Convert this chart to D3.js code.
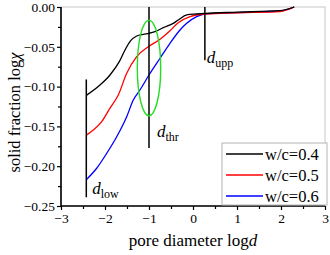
<!DOCTYPE html>
<html>
<head>
<meta charset="utf-8">
<script src="https://cdn.jsdelivr.net/npm/d3@7"></script>
<style>
  body { margin: 0; background: #fff; }
  text { font-family: "Liberation Serif", "Times New Roman", serif; fill: #000; }
</style>
</head>
<body>
<svg id="chart" width="330" height="255"></svg>
<script>
const width = 330, height = 255;

// pore diameter (log d) for each curve
const logD040 = [-2.425, -2.114, -1.886, -1.675, -1.545, -1.416, -1.28, -1.13, -1.0, -0.864, -0.675, -0.448, -0.334, -0.143, 0.084, 0.27, 1.0, 1.98, 2.3];
const chi040  = [-0.111, -0.098, -0.0854, -0.0687, -0.054, -0.0423, -0.0364, -0.0343, -0.033, -0.031, -0.026, -0.0205, -0.0163, -0.010, -0.0088, -0.008, -0.0065, -0.0046, 0.0];

const logD050 = [-2.425, -2.266, -2.075, -1.886, -1.698, -1.507, -1.28, -1.016, -0.75, -0.523, -0.334, -0.068, 0.27, 1.0, 1.98, 2.3];
const chi050  = [-0.161, -0.1545, -0.144, -0.127, -0.1106, -0.0833, -0.0624, -0.0499, -0.0406, -0.0298, -0.0197, -0.0122, -0.0088, -0.0072, -0.0057, 0.0];

const logD060 = [-2.425, -2.189, -1.961, -1.734, -1.507, -1.357, -1.205, -1.0, -0.75, -0.523, -0.295, -0.143, 0.084, 0.27, 1.0, 1.98, 2.3];
const chi060  = [-0.217, -0.2026, -0.1838, -0.163, -0.1378, -0.1168, -0.1043, -0.0854, -0.0644, -0.0456, -0.0289, -0.0205, -0.0122, -0.0088, -0.0070, -0.005, 0.0];

const seriesNames = ["w/c=0.4", "w/c=0.5", "w/c=0.6"];
const seriesColors = ["#000000", "#ff0000", "#0000ff"];

const xTicks = [-3, -2, -1, 0, 1, 2, 3];
const yTicks = [0, -0.05, -0.10, -0.15, -0.20, -0.25];

// characteristic pore diameters: vertical markers and their labels
const markers = [
  { name: "low", x: -2.425, y0: -0.091, y1: -0.239, lx: -2.29, ly: -0.235 },
  { name: "thr", x: -1.0,   y0: 0.0,    y1: -0.177, lx: -0.82, ly: -0.163 },
  { name: "upp", x: 0.27,   y0: 0.0,    y1: -0.067, lx: 0.31,  ly: -0.070 }
];

const margin = { left: 61, right: 5, top: 7, bottom: 49 };

const svg = d3.select("#chart");

const x = d3.scaleLinear().domain([-3, 3]).range([margin.left, width - margin.right]);
const y = d3.scaleLinear().domain([-0.25, 0]).range([height - margin.bottom, margin.top]);

// light frame on top / right
svg.append("rect")
  .attr("x", x(-3)).attr("y", y(0))
  .attr("width", x(3) - x(-3)).attr("height", y(-0.25) - y(0))
  .attr("fill", "none").attr("stroke", "#c8c8c8").attr("stroke-width", 1);

// curves
const line = d3.line().x(d => x(d[0])).y(d => y(d[1])).curve(d3.curveMonotoneX);
const series = [
  d3.zip(logD040, chi040),
  d3.zip(logD050, chi050),
  d3.zip(logD060, chi060)
];
// blue first so black sits on top
[2, 1, 0].forEach(i => {
  svg.append("path")
    .datum(series[i])
    .attr("d", line)
    .attr("fill", "none")
    .attr("stroke", seriesColors[i])
    .attr("stroke-width", 1.3);
});

// marker lines + labels
markers.forEach(m => {
  svg.append("line")
    .attr("x1", x(m.x)).attr("x2", x(m.x))
    .attr("y1", y(m.y0)).attr("y2", y(m.y1))
    .attr("stroke", "#000").attr("stroke-width", 1.5);
  const t = svg.append("text")
    .attr("x", x(m.lx)).attr("y", y(m.ly))
    .attr("font-size", 17);
  t.append("tspan").attr("font-style", "italic").text("d");
  t.append("tspan").attr("font-size", 12).attr("dy", 4).text(m.name);
});

// green ellipse around d_thr
svg.append("ellipse")
  .attr("cx", x(-1.0)).attr("cy", y(-0.0766))
  .attr("rx", x(-1.0 + 0.266) - x(-1.0))
  .attr("ry", y(-0.0766 - 0.060) - y(-0.0766))
  .attr("fill", "none").attr("stroke", "#22dd22").attr("stroke-width", 1.4);

// axes
const xAxis = svg.append("g")
  .attr("transform", `translate(0,${y(-0.25)})`)
  .call(d3.axisBottom(x).tickValues(xTicks).tickFormat(d3.format("d")).tickSize(4).tickPadding(3));
svg.append("g")
  .attr("transform", `translate(0,${y(-0.25)})`)
  .call(d3.axisBottom(x).tickValues(d3.range(-2.5, 3, 1)).tickFormat("").tickSize(3))
  .call(g => g.select(".domain").remove());

const yAxis = svg.append("g")
  .attr("transform", `translate(${x(-3)},0)`)
  .call(d3.axisLeft(y).tickValues(yTicks).tickFormat(d3.format(".2f")).tickSize(4).tickPadding(2));
svg.append("g")
  .attr("transform", `translate(${x(-3)},0)`)
  .call(d3.axisLeft(y).tickValues(d3.range(-0.225, 0, 0.05)).tickFormat("").tickSize(3))
  .call(g => g.select(".domain").remove());

svg.selectAll(".domain").attr("stroke-width", 1.6);
svg.selectAll(".tick line").attr("stroke-width", 1.2);
svg.selectAll(".tick text")
  .style("font-family", "'Liberation Serif', serif")
  .style("font-size", "13.5px")
  .style("fill", "#000");
xAxis.select(".domain").attr("d", `M${x(-3)},0H${x(3)}`);
yAxis.select(".domain").attr("d", `M0,${y(0)}V${y(-0.25)}`);

// axis titles
const xt = svg.append("text")
  .attr("x", x(0)).attr("y", 246)
  .attr("text-anchor", "middle").attr("font-size", 17);
xt.append("tspan").text("pore diameter log");
xt.append("tspan").attr("font-style", "italic").text("d");

const yt = svg.append("text")
  .attr("transform", `translate(20,${(y(0) + y(-0.25)) / 2 + 6}) rotate(-90)`)
  .attr("text-anchor", "middle").attr("font-size", 16.5);
yt.append("tspan").text("solid fraction log");
yt.append("tspan").attr("font-style", "italic").text("χ");

// legend
const lg = svg.append("g");
lg.append("rect")
  .attr("x", 222).attr("y", 143).attr("width", 105).attr("height", 62)
  .attr("fill", "#fff").attr("stroke", "#b4b4b4").attr("stroke-width", 1);
seriesNames.forEach((name, i) => {
  const yy = 154 + i * 21;
  lg.append("line")
    .attr("x1", 226).attr("x2", 263).attr("y1", yy).attr("y2", yy)
    .attr("stroke", seriesColors[i]).attr("stroke-width", 1.5);
  lg.append("text")
    .attr("x", 265).attr("y", yy + 5.5)
    .attr("font-size", 16.5).text(name);
});
</script>
</body>
</html>
